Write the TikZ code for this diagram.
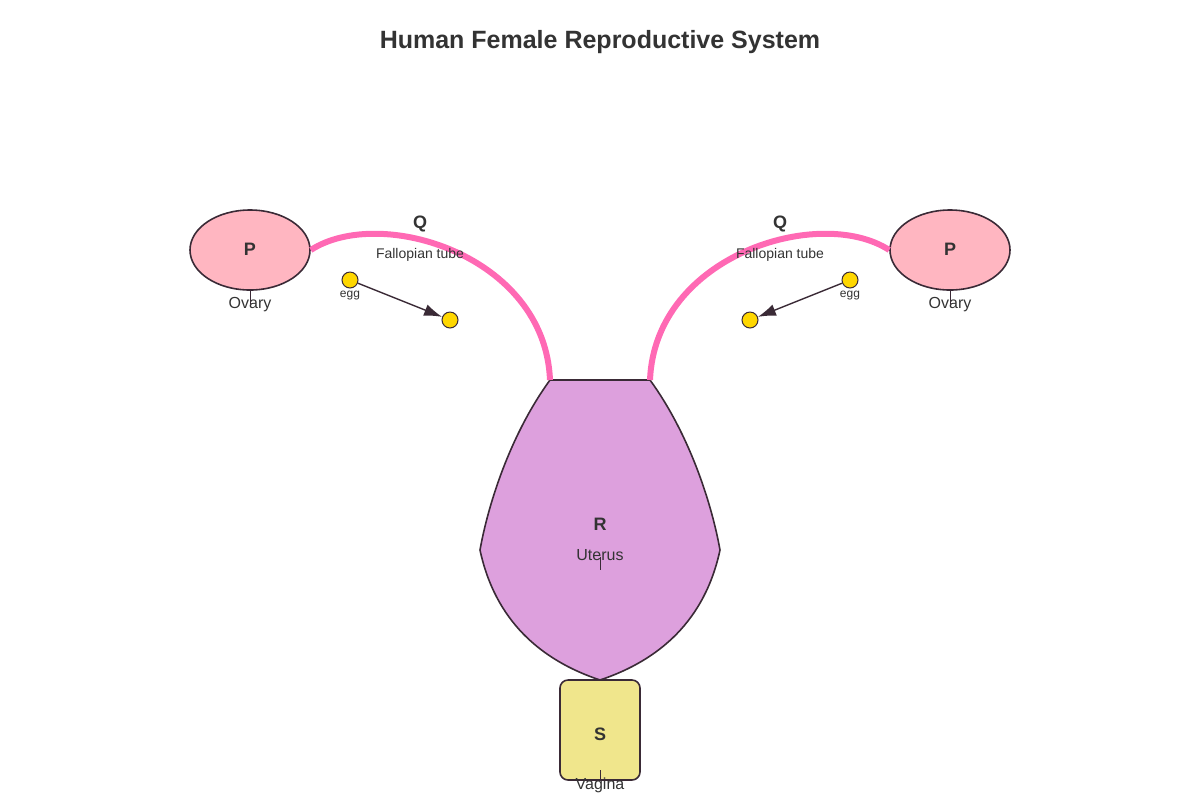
\documentclass[tikz,border=0pt]{standalone}
\usepackage{fontspec}
\setmainfont{Liberation Sans}
\usetikzlibrary{arrows.meta,positioning,shapes.geometric}
\definecolor{edge}{HTML}{3A2A36}
\definecolor{ovaryc}{HTML}{FFB6C1}
\definecolor{tubec}{HTML}{FF69B4}
\definecolor{uterc}{HTML}{DDA0DD}
\definecolor{vagc}{HTML}{F0E68C}
\definecolor{eggc}{HTML}{FFD700}
\definecolor{txt}{HTML}{333333}

\begin{document}
\begin{tikzpicture}
[x=0.5pt,y=-0.5pt, text=txt,
ovary/.style={ellipse,draw=edge,fill=ovaryc,line width=0.8pt,minimum width=60pt,minimum height=40pt},
egg/.style={circle,draw=edge,fill=eggc,line width=0.5pt,minimum size=8pt,inner sep=0pt},
tube/.style={tubec,line width=3pt},
letter/.style={font=\fontsize{9}{10}\selectfont\bfseries},
organ/.style={font=\fontsize{8}{9}\selectfont},
small/.style={font=\fontsize{7}{8}\selectfont},
tiny/.style={font=\fontsize{6}{7}\selectfont}]
\useasboundingbox (0,0) rectangle (1200,800);

\node (title) at (600,42) [font=\fontsize{12.5}{14}\selectfont\bfseries] {Human Female Reproductive System};

% ovaries
\node (ovL) at (250,250) [ovary] {};
\node (ovR) at (950,250) [ovary] {};
\node at (250,249) [letter] {P};
\node at (950,249) [letter] {P};
\draw[edge,line width=0.4pt] (ovL.south) -- ++(0,13);
\draw[edge,line width=0.4pt] (ovR.south) -- ++(0,13);
\node (ovLt) at (250,305) [organ] {Ovary};
\node (ovRt) at (950,305) [organ] {Ovary};

% uterus
\coordinate (uL) at (550,380);
\coordinate (uR) at (650,380);
\draw[edge,fill=uterc,line width=0.8pt] (uL) -- (uR)
  .. controls (690,435) and (712,505) .. (720,550)
  .. controls (705,620) and (660,660) .. (600,680)
  .. controls (540,660) and (495,620) .. (480,550)
  .. controls (488,505) and (510,435) .. (uL) -- cycle;
\node (ut) at (600,524) [letter] {R};
\node (utt) at (600,555) [organ] {Uterus};
\draw[edge,line width=0.4pt] (600,557) -- (600,570);

% tubes
\draw[tube] (ovL.east) .. controls (380,205) and (545,255) .. (uL);
\draw[tube] (ovR.west) .. controls (820,205) and (655,255) .. (uR);
\node at (420,224) [letter] {Q};
\node at (780,224) [letter] {Q};
\node at (420,255) [small] {Fallopian tube};
\node at (780,255) [small] {Fallopian tube};

% eggs
\node (eggL) at (350,280) [egg] {};
\node (eggL2) at (450,320) [egg] {};
\node (eggR) at (850,280) [egg] {};
\node (eggR2) at (750,320) [egg] {};
\node at (350,296) [tiny] {egg};
\node at (850,296) [tiny] {egg};
\draw[-{Latex[length=9pt,width=6pt]},edge,line width=0.7pt] (eggL) -- (eggL2);
\draw[-{Latex[length=9pt,width=6pt]},edge,line width=0.7pt] (eggR) -- (eggR2);

% vagina
\node (vag) at (600,730) [draw=edge,fill=vagc,line width=0.8pt,rounded corners=4pt,minimum width=40pt,minimum height=50pt] {};
\node at (600,734) [letter] {S};
\draw[edge,line width=0.4pt] (600,770) -- (vag.south);
\node (vagt) at (600,785) [organ] {Vagina};
\end{tikzpicture}
\end{document}
